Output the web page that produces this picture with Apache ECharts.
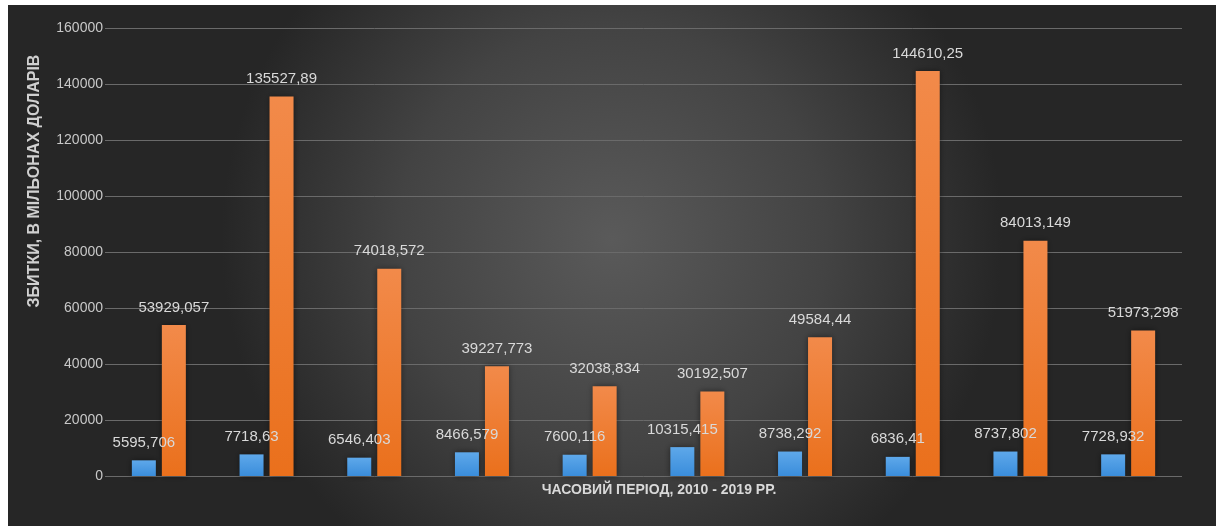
<!DOCTYPE html>
<html>
<head>
<meta charset="utf-8">
<script src="https://cdn.jsdelivr.net/npm/echarts@6/dist/echarts.min.js"></script>
<style>
  html, body { margin: 0; padding: 0; background: #ffffff; }
  #chart { position: absolute; left: 8px; top: 5px; width: 1208px; height: 521px; }
</style>
</head>
<body>
<div id="chart"></div>
<script>
const categories = ['2010', '2011', '2012', '2013', '2014', '2015', '2016', '2017', '2018', '2019'];
const seriesBlue = [5595.706, 7718.63, 6546.403, 8466.579, 7600.116, 10315.415, 8738.292, 6836.41, 8737.802, 7728.932];
const seriesOrange = [53929.057, 135527.89, 74018.572, 39227.773, 32038.834, 30192.507, 49584.44, 144610.25, 84013.149, 51973.298];
const yTicks = { min: 0, max: 160000, interval: 20000 };
const yAxisTitle = 'ЗБИТКИ, В МІЛЬОНАХ ДОЛАРІВ';
const xAxisTitle = 'ЧАСОВИЙ ПЕРІОД, 2010 - 2019 РР.';

const chart = echarts.init(document.getElementById('chart'), null, { renderer: 'canvas' });
const fmt = p => String(p.value).replace('.', ',');
const labelStyle = {
  show: true, position: 'top', distance: 10,
  color: '#d9d9d9', fontSize: 15, fontFamily: 'Liberation Sans, Arial, sans-serif',
  formatter: fmt
};

chart.setOption({
  animation: false,
  backgroundColor: {
    type: 'radial', x: 0.5, y: 0.45, r: 0.75,
    colorStops: [
      { offset: 0, color: '#5a5a5a' },
      { offset: 0.55, color: '#434343' },
      { offset: 1, color: '#262626' }
    ]
  },
  grid: { left: 97, right: 34, top: 23, bottom: 50 },
  xAxis: {
    type: 'category',
    data: categories,
    axisLine: { show: false },
    axisTick: { show: false },
    axisLabel: { show: false },
    splitLine: { show: false }
  },
  yAxis: {
    type: 'value',
    min: yTicks.min, max: yTicks.max, interval: yTicks.interval,
    axisLine: { show: false },
    axisTick: { show: false },
    axisLabel: { color: '#c8c8c8', fontSize: 14, margin: 2, fontFamily: 'Liberation Sans, Arial, sans-serif',
      formatter: v => String(v) },
    splitLine: { lineStyle: { color: '#6a6a6a', width: 1 } }
  },
  graphic: [
    {
      type: 'text', x: 27, y: 176, rotation: Math.PI / 2,
      style: {
        text: yAxisTitle, fill: '#d0d0d0', font: 'bold 16px "Liberation Sans", Arial, sans-serif',
        textAlign: 'center', textVerticalAlign: 'middle'
      }
    },
    {
      type: 'text', x: 651, y: 485,
      style: {
        text: xAxisTitle, fill: '#d9d9d9', font: 'bold 14px "Liberation Sans", Arial, sans-serif',
        textAlign: 'center', textVerticalAlign: 'middle'
      }
    }
  ],
  series: [
    {
      name: 'Blue', type: 'bar', data: seriesBlue, barWidth: 24, barGap: '25%',
      itemStyle: {
        color: { type: 'linear', x: 0, y: 0, x2: 0, y2: 1,
          colorStops: [{ offset: 0, color: '#5ea8ea' }, { offset: 1, color: '#3a8ddb' }] },
        shadowColor: 'rgba(0,0,0,0.45)', shadowBlur: 6
      },
      label: labelStyle
    },
    {
      name: 'Orange', type: 'bar', data: seriesOrange, barWidth: 24,
      itemStyle: {
        color: { type: 'linear', x: 0, y: 0, x2: 0, y2: 1,
          colorStops: [{ offset: 0, color: '#f28a4a' }, { offset: 1, color: '#ea701c' }] },
        shadowColor: 'rgba(0,0,0,0.45)', shadowBlur: 6
      },
      label: labelStyle
    }
  ]
});
</script>
</body>
</html>
